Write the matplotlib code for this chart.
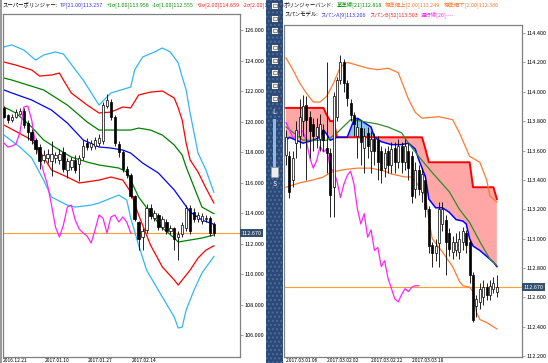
import numpy as np
import matplotlib.pyplot as plt
from matplotlib.patches import Rectangle
from matplotlib.ticker import FormatStrFormatter
from matplotlib.transforms import blended_transform_factory

plt.rcParams['font.family'] = ['Noto Sans CJK JP', 'DejaVu Sans']

# ---------------- left panel: super bollinger ----------------
l_open = [120.9, 120.4, 120.1, 120.3, 120.5, 120.7, 119.9, 119.3, 118.8, 118.3, 117.5, 117.6, 117.4, 117.6, 117.5,
          118.0, 116.8, 117.0, 117.5, 117.2, 117.7, 118.6, 118.3, 118.4, 118.6, 118.7, 121.0, 121.3, 120.3, 118.5,
          118.0, 116.9, 116.5, 115.1, 113.4, 112.4, 112.9, 114.3, 113.7, 113.9, 113.1, 113.4, 112.8, 113.0, 112.4,
          112.6, 113.0, 114.3, 114.1, 113.6, 113.5, 113.6, 113.7, 113.3]
l_high = [121.0, 120.5, 120.5, 120.8, 120.9, 120.9, 120.1, 119.5, 118.9, 118.5, 118.1, 118.2, 118.7, 118.0, 118.2,
          118.3, 117.6, 117.7, 117.8, 117.8, 118.8, 118.9, 118.8, 119.0, 119.2, 121.3, 121.8, 121.5, 120.4, 118.7,
          118.1, 117.1, 116.6, 115.2, 113.5, 113.0, 114.6, 114.6, 114.2, 114.0, 113.8, 113.6, 113.2, 113.1, 112.8,
          113.4, 114.5, 114.5, 114.3, 114.1, 114.0, 113.9, 113.8, 113.4]
l_low = [120.2, 119.9, 120.0, 120.2, 120.4, 119.6, 118.8, 118.5, 117.9, 116.9, 117.3, 117.3, 116.4, 117.3, 117.2,
         116.7, 116.3, 116.8, 116.6, 116.1, 117.5, 118.1, 118.1, 118.2, 118.4, 118.5, 120.9, 120.1, 118.4, 117.7,
         116.7, 116.3, 115.0, 113.5, 111.6, 111.6, 112.7, 113.6, 113.5, 112.9, 112.9, 112.6, 112.6, 111.6, 110.9,
         112.4, 112.8, 112.6, 113.4, 113.4, 113.3, 113.4, 112.5, 112.5]
l_close = [120.3, 120.1, 120.3, 120.6, 120.7, 119.8, 119.3, 118.8, 118.2, 117.4, 117.8, 117.9, 117.9, 117.8, 117.9,
           116.9, 117.4, 117.5, 116.8, 117.6, 118.4, 118.3, 118.6, 118.8, 118.9, 121.1, 121.4, 120.3, 118.6, 118.0,
           116.9, 116.5, 115.1, 113.6, 112.3, 112.8, 114.3, 113.8, 114.0, 113.1, 113.6, 112.8, 113.0, 112.3, 112.6,
           113.2, 114.3, 112.8, 113.6, 113.9, 113.8, 113.7, 112.7, 112.67]

cyan_up_bar = [0, 2, 5, 8, 10, 13, 15, 20, 24, 27, 32, 33, 35, 38, 40, 42, 44, 45, 46, 47, 48, 49, 51, 53]
cyan_up = [124.89, 125.02, 124.69, 124.03, 124.36, 124.56, 124.43, 122.72, 121.08, 121.87, 122.26, 123.38,
           124.23, 124.56, 124.82, 124.56, 123.84, 122.92, 122.07, 120.56, 119.25, 117.93, 116.82, 115.36]
red_up_bar = [0, 3, 7, 9, 12, 14, 15, 17, 21, 24, 27, 30, 32, 34, 37, 40, 43, 44, 45, 46, 47, 49, 51, 53]
red_up = [123.90, 123.70, 123.38, 122.98, 123.05, 123.18, 122.72, 121.87, 121.08, 120.56, 120.62, 120.95,
          120.89, 121.74, 121.93, 122.00, 121.54, 120.89, 120.10, 118.59, 117.48, 116.69, 115.64, 114.66]
green_up_bar = [0, 2, 10, 16, 21, 24, 29, 32, 34, 37, 40, 43, 45, 46, 48, 50, 53]
green_up = [122.85, 122.72, 122.07, 121.08, 119.97, 119.44, 119.44, 119.44, 119.57, 119.44, 119.11, 118.46,
            117.80, 117.02, 115.70, 114.39, 113.96]
tp_bar = [0, 2, 7, 12, 16, 20, 24, 27, 30, 32, 35, 39, 43, 47, 50, 53]
tp = [122.07, 121.87, 121.41, 120.75, 119.90, 118.79, 118.33, 118.26, 118.13, 117.93, 117.28, 116.62, 115.51,
      114.07, 113.54, 113.26]
green_lo_bar = [0, 3, 7, 10, 14, 17, 21, 24, 29, 31, 32, 34, 37, 40, 43, 44, 47, 50, 53]
green_lo = [120.95, 120.56, 119.64, 118.79, 118.13, 117.67, 117.34, 117.15, 116.95, 116.69, 116.16, 115.05,
            114.00, 113.02, 112.36, 112.10, 112.23, 112.36, 112.56]
red_lo_bar = [0, 7, 10, 12, 16, 19, 24, 27, 30, 32, 34, 37, 40, 43, 44, 47, 49, 51, 53]
red_lo = [119.77, 118.79, 117.67, 116.82, 116.36, 115.97, 116.16, 116.36, 116.16, 115.38, 113.87, 111.90,
          110.46, 109.61, 109.28, 110.26, 111.05, 111.57, 111.85]
cyan_lo_bar = [0, 4, 7, 10, 12, 16, 18, 22, 24, 29, 31, 32, 34, 36, 40, 43, 44, 45, 46, 48, 50, 53]
cyan_lo = [119.11, 118.33, 117.61, 116.16, 115.05, 114.52, 114.39, 114.52, 114.66, 115.18, 114.85, 113.67,
           111.90, 110.26, 108.49, 107.18, 106.46, 106.52, 107.64, 108.95, 110.07, 111.15]
l_lag = [118.59, 118.33, 118.39, 118.52, 119.25, 120.95, 121.02, 120.10, 118.46, 117.67, 116.69, 115.84, 114.52,
         113.08, 112.43, 113.21, 114.39, 114.52, 113.54, 112.95, 112.69, 112.49, 112.03, 112.89, 113.87, 113.67,
         112.69, 113.74, 113.87, 113.41, 113.74, 113.41, 112.69]
l_ticks = [106, 108, 110, 112, 114, 116, 118, 120, 122, 124, 126]

# ---------------- right panel: bollinger + span model ----------------
r_open = [113.57, 113.56, 113.40, 113.65, 113.70, 113.80, 113.91, 113.83, 113.78, 113.70, 113.68, 113.74, 113.62,
          113.58, 113.35, 113.83, 114.08, 114.20, 114.06, 113.92, 113.84, 113.70, 113.75, 113.62, 113.72, 113.60,
          113.68, 113.67, 113.60, 113.48, 113.60, 113.50, 113.62, 113.52, 113.63, 113.52, 113.60, 113.56, 113.34,
          113.47, 113.32, 113.40, 113.20, 112.96, 112.90, 112.97, 113.10, 113.13, 113.04, 112.91, 112.92, 112.91,
          112.98, 113.04, 112.98, 112.75, 112.54, 112.57, 112.60, 112.67, 112.62, 112.66, 112.64]
r_high = [113.74, 113.60, 113.60, 113.80, 113.95, 113.98, 113.97, 113.87, 113.82, 113.82, 113.85, 113.78, 114.20,
          113.62, 114.00, 114.10, 114.25, 114.22, 114.08, 113.95, 113.86, 113.82, 113.80, 113.75, 113.76, 113.73,
          113.72, 113.70, 113.63, 113.62, 113.63, 113.66, 113.66, 113.68, 113.66, 113.68, 113.65, 113.60, 113.52,
          113.50, 113.48, 113.43, 113.22, 112.98, 113.00, 113.25, 113.25, 113.16, 113.07, 113.02, 113.04, 113.05,
          113.08, 113.06, 113.00, 112.77, 112.62, 112.70, 112.72, 112.70, 112.72, 112.74, 112.75]
r_low = [113.50, 113.28, 113.35, 113.55, 113.62, 113.70, 113.40, 113.55, 113.60, 113.62, 113.60, 113.60, 113.45,
         113.15, 113.15, 113.80, 114.05, 114.00, 113.90, 113.80, 113.70, 113.55, 113.50, 113.45, 113.55, 113.45,
         113.50, 113.40, 113.38, 113.42, 113.45, 113.45, 113.45, 113.48, 113.45, 113.47, 113.40, 113.24, 113.28,
         113.30, 113.25, 113.15, 112.90, 112.81, 112.85, 112.81, 113.05, 112.75, 112.88, 112.86, 112.88, 112.86,
         112.92, 112.90, 112.70, 112.43, 112.47, 112.52, 112.55, 112.58, 112.58, 112.63, 112.60]
r_close = [113.69, 113.32, 113.55, 113.74, 113.83, 113.90, 113.81, 113.73, 113.70, 113.76, 113.78, 113.67, 113.58,
           113.30, 113.97, 114.08, 114.20, 114.06, 113.96, 113.84, 113.78, 113.76, 113.66, 113.70, 113.63, 113.68,
           113.60, 113.52, 113.47, 113.58, 113.50, 113.61, 113.52, 113.63, 113.52, 113.63, 113.48, 113.29, 113.47,
           113.34, 113.44, 113.20, 112.95, 112.90, 112.95, 113.20, 113.20, 112.98, 112.93, 112.98, 112.98, 113.00,
           113.05, 112.96, 112.75, 112.45, 112.59, 112.66, 112.67, 112.62, 112.68, 112.70, 112.67]

bb_up_bar = [0, 2, 4, 6, 8, 10, 12, 14, 16, 18, 21, 24, 27, 30, 33, 36, 38, 40, 45, 49, 51, 54, 57, 59, 60, 62]
bb_up = [114.23, 114.15, 114.06, 113.99, 113.93, 113.93, 113.97, 114.06, 114.17, 114.20, 114.18, 114.16, 114.15,
         114.16, 114.13, 113.95, 113.86, 113.82, 113.83, 113.81, 113.72, 113.56, 113.52, 113.40, 113.29, 113.249]
bb_lo_bar = [0, 4, 8, 11, 13, 17, 21, 25, 29, 31, 35, 37, 39, 41, 42, 43, 46, 49, 51, 52, 54, 55, 56, 57, 59, 62]
bb_lo = [113.35, 113.38, 113.40, 113.42, 113.45, 113.47, 113.48, 113.48, 113.46, 113.44, 113.42, 113.42, 113.36,
         113.29, 113.13, 113.00, 112.91, 112.81, 112.71, 112.68, 112.67, 112.64, 112.50, 112.45, 112.43, 112.386]
bb_mid_bar = [0, 5, 12, 15, 19, 22, 27, 30, 34, 36, 39, 43, 48, 51, 54, 57, 60, 62]
bb_mid = [113.76, 113.67, 113.67, 113.72, 113.81, 113.80, 113.78, 113.76, 113.72, 113.65, 113.56, 113.45, 113.32,
          113.20, 113.11, 112.98, 112.86, 112.818]
span_b_level = [113.89, 113.84, 113.80, 113.69, 113.61, 113.52, 113.35, 113.27]
span_b_len = [12, 1, 2, 26, 1, 13, 7, 1]
span_a_bar = [0, 1, 3, 5, 8, 10, 11, 12, 13, 14, 15, 18, 20, 21, 23, 25, 26, 28, 31, 34, 36, 38, 39, 40, 41,
              42, 44, 46, 48, 50, 52, 53, 54, 55, 57, 59, 61, 62]
span_a = [113.67, 113.69, 113.67, 113.65, 113.67, 113.69, 113.74, 113.71, 113.67, 113.68, 113.69, 113.69, 113.81,
          113.82, 113.79, 113.76, 113.69, 113.66, 113.64, 113.64, 113.65, 113.61, 113.54, 113.48, 113.42, 113.27,
          113.21, 113.21, 113.18, 113.13, 113.12, 113.10, 113.00, 112.95, 112.92, 112.88, 112.84, 112.81]
r_lag = [113.79, 113.74, 113.69, 113.69, 113.74, 113.73, 113.66, 113.55, 113.48, 113.53, 113.63, 113.59, 113.61,
         113.48, 113.46, 113.39, 113.28, 113.37, 113.43, 113.46, 113.37, 113.20, 113.10, 113.17, 113.01, 113.06,
         112.92, 112.94, 112.81, 112.85, 112.73, 112.66, 112.59, 112.57, 112.62, 112.66, 112.64, 112.67, 112.68,
         112.68]
r_ticks = [112.2, 112.4, 112.6, 112.8, 113.0, 113.2, 113.4, 113.6, 113.8, 114.0, 114.2, 114.4]
last_price = 112.670

left_header = [('スーパーボリンジャー:', 'black'), ('TP[21.00]113.257', '#3333FF'),
               ('+1σ[1.00]113.958', '#009000'), ('-1σ[1.00]112.555', '#009000'),
               ('+2σ[2.00]114.659', '#FF2020'), ('-2σ[2.00]111.854', '#FF2020')]
right_header1 = [('ボリンジャーバンド:', 'black'), ('基準線[21]112.818', '#009000'),
                 ('標準偏上[2.00]113.249', '#FF7A30'), ('標準偏下[2.00]112.386', '#FF7A30')]
right_header2 = [('スパンモデル:', 'black'), ('スパンA[9]113.206', '#3333FF'),
                 ('スパンB[52]113.503', '#FF2020'), ('遅行線[26]----', '#FF22FF')]
left_dates = ['2016.12.21', '2017.01.10', '2017.01.27', '2017.02.14']
right_dates = ['2017.03.01 06', '2017.03.02 02', '2017.03.02 22', '2017.03.03 18']

# ---------------- figure ----------------
W, H = 548, 363
fig = plt.figure(figsize=(W / 100, H / 100), dpi=100, facecolor='white')
renderer = fig.canvas.get_renderer()


def box(x0, y0, x1, y1):
    # pixel box (origin top-left) -> figure fraction rect
    return [x0 / W, 1 - y1 / H, (x1 - x0) / W, (y1 - y0) / H]


def candles(ax, o, h, l, c, width, min_body):
    o, h, l, c = map(np.asarray, (o, h, l, c))
    x = np.arange(len(o))
    ax.vlines(x, l, h, color='black', lw=0.6, zorder=3)
    body = np.maximum(np.abs(c - o), min_body)
    cols = np.where(c >= o, 'white', 'black')
    ax.bar(x, body, bottom=np.minimum(o, c), width=width, color=cols,
           edgecolor='black', lw=0.5, zorder=4)


def style(ax, ticks):
    ax.yaxis.tick_right()
    ax.set_yticks(ticks)
    ax.yaxis.set_major_formatter(FormatStrFormatter('%.3f'))
    ax.tick_params(axis='y', labelsize=4, length=2, width=0.5, pad=1.5, color='#808080')
    ax.set_xticks([])
    for s in ax.spines.values():
        s.set_color('#808080')
        s.set_linewidth(0.9)


def price_tag(ax, price):
    tr = blended_transform_factory(ax.transAxes, ax.transData)
    ax.plot([0, 1.0], [price, price], color='#FFA030', lw=0.8, transform=tr, zorder=2)
    ax.text(1.006, price, '%.3f' % price, transform=tr, fontsize=4, color='white',
            va='center', ha='left', zorder=10, clip_on=False,
            bbox=dict(boxstyle='square,pad=0.3', fc='#34506E', ec='none'))


def header(x, y, parts, size=3.9, gap=3):
    # coloured pieces written one after another
    for s, c in parts:
        t = fig.text(x / W, 1 - y / H, s, color=c, fontsize=size, va='center', ha='left')
        x = t.get_window_extent(renderer).x1 + gap


# left axes
axl = fig.add_axes(box(3, 14, 240, 357))
axl.set_xlim(-0.25, 59.6)
axl.set_ylim(104.56, 127.05)
style(axl, l_ticks)
price_tag(axl, last_price)
axl.plot(cyan_up_bar, cyan_up, color='#33B5F5', lw=0.9)
axl.plot(cyan_lo_bar, cyan_lo, color='#33B5F5', lw=0.9)
axl.plot(red_up_bar, red_up, color='#FF0000', lw=0.9)
axl.plot(red_lo_bar, red_lo, color='#FF0000', lw=0.9)
axl.plot(green_up_bar, green_up, color='#008000', lw=0.9)
axl.plot(green_lo_bar, green_lo, color='#008000', lw=0.9)
axl.plot(tp_bar, tp, color='#0000FF', lw=0.9)
axl.plot(np.arange(len(l_lag)), l_lag, color='#FF22FF', lw=0.9)
candles(axl, l_open, l_high, l_low, l_close, 0.62, 0.07)

# right axes
axr = fig.add_axes(box(284, 25, 522, 357))
axr.set_xlim(-0.6, 69.4)
axr.set_ylim(112.195, 114.454)
style(axr, r_ticks)

span_b = np.repeat(span_b_level, span_b_len)
sa_x = np.array(span_a_bar)
sa = np.array(span_a)
sb = span_b[sa_x]
axr.fill_between(sa_x, sa, sb, where=sb >= sa, interpolate=True, color='#FFA6A6', lw=0, zorder=1)
axr.fill_between(sa_x, sa, sb, where=sa > sb, interpolate=True, color='#8CC4EA', lw=0, zorder=1)
price_tag(axr, last_price)
axr.plot(np.arange(len(span_b)), span_b, color='#FF0000', lw=1.4, zorder=2)
axr.plot(span_a_bar, span_a, color='#0000FF', lw=1.1, zorder=2)
axr.plot(bb_up_bar, bb_up, color='#FF7A30', lw=0.9)
axr.plot(bb_lo_bar, bb_lo, color='#FF7A30', lw=0.9)
axr.plot(bb_mid_bar, bb_mid, color='#2E8B2E', lw=0.9)
axr.plot(np.arange(len(r_lag)), r_lag, color='#FF22FF', lw=0.9)
candles(axr, r_open, r_high, r_low, r_close, 0.62, 0.008)

# headers
header(2, 5, left_header)
header(284, 5, right_header1)
header(284, 15, right_header2)

# date labels in the thin strip under the panels
for x, s in zip([3, 45, 88, 132], left_dates):
    fig.text(x / W, 1 - 362.5 / H, s, fontsize=3.5, va='bottom', ha='left')
for x, s in zip([286, 327, 371, 412], right_dates):
    fig.text(x / W, 1 - 362.5 / H, s, fontsize=3.5, va='bottom', ha='left')

# toolbar strip between the panels (drawn over the header overflow)
fig.add_artist(Rectangle((266 / W, 0), 17 / W, 1, transform=fig.transFigure,
                         fc='#2C4A78', ec='#4B6C9E', hatch='....', lw=0, zorder=5))
fig.add_artist(Rectangle((0, 0), 2 / W, 1, transform=fig.transFigure, fc='#9A9A9A', ec='none'))
for yc in [5, 18, 30, 47, 60, 72, 85, 98]:
    fig.add_artist(Rectangle((271 / W, 1 - (yc + 3.5) / H), 7 / W, 7 / H, transform=fig.transFigure,
                             fc='#F4F4F4', ec='#1A2A44', lw=0.5, zorder=6))
    fig.add_artist(Rectangle((272.5 / W, 1 - (yc + 1.5) / H), 4 / W, 3 / H, transform=fig.transFigure,
                             fc='none', ec='#404040', lw=0.4, zorder=7))
fig.add_artist(Rectangle((273 / W, 1 - 167 / H), 3 / W, 48 / H, transform=fig.transFigure,
                         fc='#8FB8E8', ec='none', zorder=6))
fig.add_artist(Rectangle((271 / W, 1 - 177 / H), 7 / W, 10 / H, transform=fig.transFigure,
                         fc='#EDEDED', ec='#A0A0A0', lw=0.4, zorder=7))
fig.text(274.5 / W, 1 - 112 / H, 'L', color='white', fontsize=5, ha='center', va='center', zorder=8)
fig.text(274.5 / W, 1 - 184 / H, 'S', color='white', fontsize=5, ha='center', va='center', zorder=8)

fig.savefig('out.png', dpi=100, facecolor='white')
